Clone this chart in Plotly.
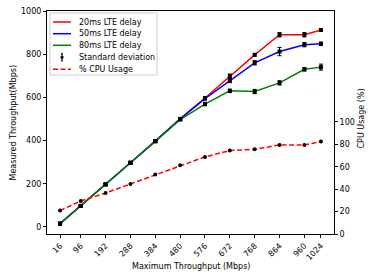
import plotly.graph_objects as go

x_vals = [16, 96, 192, 288, 384, 480, 576, 672, 768, 864, 960, 1024]
tp_20ms = [15, 97, 197, 297, 397, 500, 597, 698, 797, 890, 890, 912]
tp_50ms = [15, 97, 197, 297, 397, 500, 594, 678, 760, 812, 844, 848]
tp_80ms = [15, 97, 197, 297, 397, 497, 569, 630, 627, 667, 730, 740]
err_20ms = [3, 4, 4, 4, 5, 5, 6, 10, 6, 10, 10, 6]
err_50ms = [3, 4, 4, 4, 5, 5, 6, 10, 10, 19, 10, 8]
err_80ms = [3, 4, 4, 4, 5, 5, 8, 8, 10, 10, 8, 14]
cpu_usage = [21, 29.5, 36.6, 44.6, 53, 61.3, 68.8, 74.5, 75.6, 79.5, 79.5, 82.5]
x_ticks = [16, 96, 192, 288, 384, 480, 576, 672, 768, 864, 960, 1024]
legend_names = ["20ms LTE delay", "50ms LTE delay", "80ms LTE delay",
                "Standard deviation", "% CPU Usage"]

FONT = "DejaVu Sans"
font = dict(family=FONT, size=8, color="black")

# plot area in pixels
L, R, T, B = 47, 334, 11, 234
W, H = R - L, B - T


def px(x):
    return (x - L) / W


def py(y):
    return (B - y) / H


fig = go.Figure()

series = [(tp_20ms, err_20ms, "#ff0000"),
          (tp_50ms, err_50ms, "#0000ff"),
          (tp_80ms, err_80ms, "#008000")]

for ys, errs, col in series:
    fig.add_trace(go.Scatter(x=x_vals, y=ys, mode="lines", showlegend=False,
                             line=dict(color=col, width=1.5)))

for ys, errs, col in series:
    fig.add_trace(go.Scatter(x=x_vals, y=ys, mode="markers", showlegend=False,
                             marker=dict(color="black", symbol="square", size=4),
                             error_y=dict(type="data", array=errs, color="black",
                                          thickness=1, width=2)))

fig.add_trace(go.Scatter(x=x_vals, y=cpu_usage, mode="lines+markers", showlegend=False,
                         yaxis="y2",
                         line=dict(color="#ff0000", width=1.5, dash="5px,2.5px"),
                         marker=dict(color="black", symbol="circle", size=4)))

# manual compact legend (matplotlib style)
shapes = [dict(type="rect", xref="paper", yref="paper",
               x0=px(50), x1=px(157), y0=py(75), y1=py(13),
               line=dict(color="#cccccc", width=1), fillcolor="rgba(255,255,255,0.8)",
               layer="above")]
annotations = []
row_y = [22, 33.7, 45.3, 57.3, 69.3]
colors = ["#ff0000", "#0000ff", "#008000", None, "#ff0000"]
for i, name in enumerate(legend_names):
    yy = row_y[i]
    if i < 3:
        shapes.append(dict(type="line", xref="paper", yref="paper",
                           x0=px(53), x1=px(71), y0=py(yy), y1=py(yy),
                           line=dict(color=colors[i], width=1.5), layer="above"))
    elif i == 3:
        shapes.append(dict(type="line", xref="paper", yref="paper",
                           x0=px(62), x1=px(62), y0=py(yy - 3.5), y1=py(yy + 3.5),
                           line=dict(color="black", width=1), layer="above"))
        for cy in (yy - 3.5, yy + 3.5):
            shapes.append(dict(type="line", xref="paper", yref="paper",
                               x0=px(61), x1=px(63), y0=py(cy), y1=py(cy),
                               line=dict(color="black", width=1), layer="above"))
        shapes.append(dict(type="rect", xref="paper", yref="paper",
                           x0=px(61), x1=px(63), y0=py(yy - 1), y1=py(yy + 1),
                           line=dict(color="black", width=1), fillcolor="black",
                           layer="above"))
    else:
        shapes.append(dict(type="line", xref="paper", yref="paper",
                           x0=px(53), x1=px(71), y0=py(yy), y1=py(yy),
                           line=dict(color=colors[i], width=1.5, dash="5px,2.5px"),
                           layer="above"))
    annotations.append(dict(text=name, xref="paper", yref="paper",
                            x=px(77), y=py(yy), xanchor="left", yanchor="middle",
                            showarrow=False, font=font))

# axis titles
annotations.append(dict(text="Maximum Throughput (Mbps)", xref="paper", yref="paper",
                        x=px(190.5), y=py(266), xanchor="center", yanchor="middle",
                        showarrow=False, font=font))
annotations.append(dict(text="Measured Throughput(Mbps)", xref="paper", yref="paper",
                        x=px(13), y=py(122.5), xanchor="center", yanchor="middle",
                        textangle=-90, showarrow=False, font=font))
annotations.append(dict(text="CPU Usage (%)", xref="paper", yref="paper",
                        x=px(361), y=py(118.5), xanchor="center", yanchor="middle",
                        textangle=-90, showarrow=False, font=font))

fig.update_layout(
    width=374, height=280,
    margin=dict(l=L, r=374 - R, t=T, b=280 - B, autoexpand=False),
    paper_bgcolor="white", plot_bgcolor="white",
    font=font,
    showlegend=False,
    hovermode=False,
    shapes=shapes,
    annotations=annotations,
    xaxis=dict(range=[-34.4, 1074.4], tickvals=x_ticks, ticktext=[str(t) for t in x_ticks],
               tickangle=-45, showgrid=False, zeroline=False, automargin=False,
               showline=True, linecolor="black", linewidth=1, mirror=True,
               ticks="outside", ticklen=3, tickcolor="black"),
    yaxis=dict(range=[-33, 1000], tickvals=[0, 200, 400, 600, 800, 1000],
               showgrid=False, zeroline=False, automargin=False,
               showline=True, linecolor="black", linewidth=1, mirror=True,
               ticks="outside", ticklen=3, tickcolor="black"),
    yaxis2=dict(range=[0, 199], tickvals=[0, 20, 40, 60, 80, 100], overlaying="y",
                side="right", showgrid=False, zeroline=False, automargin=False,
                showline=False,
                ticks="outside", ticklen=3, tickcolor="black"),
)

fig.write_html("out.html", config={"displayModeBar": False, "staticPlot": True},
               post_script="document.body.style.margin='0';document.body.style.padding='0';")
